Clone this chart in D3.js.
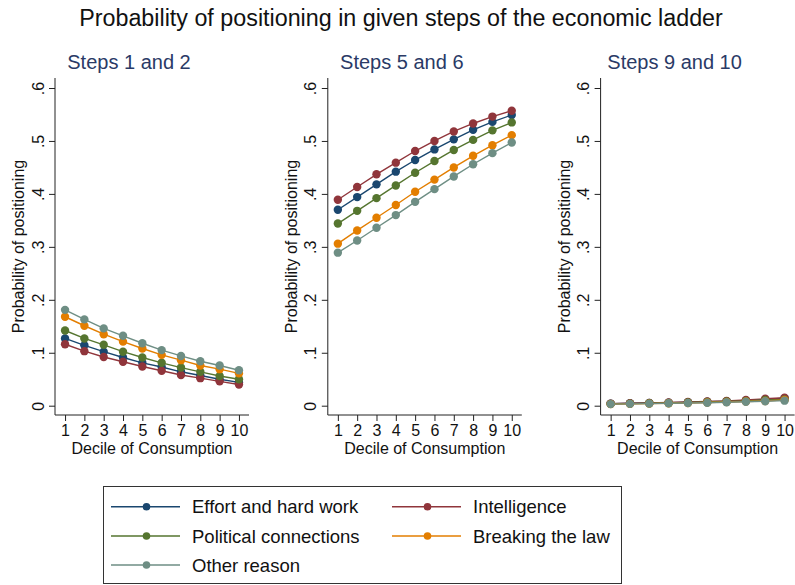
<!DOCTYPE html>
<html>
<head>
<meta charset="utf-8">
<script src="https://cdn.jsdelivr.net/npm/d3@7"></script>
<style>
  html, body { margin: 0; padding: 0; background: #fff; }
  svg { display: block; font-family: "Liberation Sans", Arial, Helvetica, sans-serif; }
</style>
</head>
<body>
<svg id="chart" width="795" height="585"></svg>
<script>
// Deciles of consumption on the x axis
const deciles = [1, 2, 3, 4, 5, 6, 7, 8, 9, 10];
const yTicks = [0, 0.1, 0.2, 0.3, 0.4, 0.5, 0.6];
const yTickLabels = ["0", ".1", ".2", ".3", ".4", ".5", ".6"];

const panelTitles = ["Steps 1 and 2", "Steps 5 and 6", "Steps 9 and 10"];
const seriesNames = ["Effort and hard work", "Intelligence", "Political connections", "Breaking the law", "Other reason"];
const seriesColors = ["#1a476f", "#90353b", "#55752f", "#e37e00", "#6e8e84"];

// Predicted probabilities, one array per reason, for each panel
const steps12Effort   = [0.127, 0.114, 0.102, 0.091, 0.081, 0.073, 0.064, 0.057, 0.050, 0.044];
const steps12Intel    = [0.116, 0.103, 0.092, 0.083, 0.074, 0.066, 0.058, 0.052, 0.046, 0.040];
const steps12Politic  = [0.142, 0.127, 0.115, 0.102, 0.091, 0.081, 0.072, 0.064, 0.056, 0.050];
const steps12Law      = [0.168, 0.151, 0.135, 0.121, 0.108, 0.096, 0.086, 0.076, 0.069, 0.061];
const steps12Other    = [0.181, 0.163, 0.146, 0.132, 0.118, 0.105, 0.094, 0.084, 0.076, 0.067];

const steps56Effort   = [0.370, 0.394, 0.418, 0.442, 0.464, 0.484, 0.503, 0.521, 0.536, 0.549];
const steps56Intel    = [0.389, 0.413, 0.437, 0.459, 0.481, 0.500, 0.518, 0.533, 0.546, 0.557];
const steps56Politic  = [0.344, 0.368, 0.392, 0.416, 0.440, 0.462, 0.483, 0.502, 0.520, 0.535];
const steps56Law      = [0.306, 0.331, 0.355, 0.379, 0.404, 0.427, 0.450, 0.472, 0.492, 0.511];
const steps56Other    = [0.289, 0.312, 0.336, 0.360, 0.385, 0.409, 0.433, 0.456, 0.477, 0.497];

const steps910Effort  = [0.004, 0.0045, 0.005, 0.0055, 0.0065, 0.0075, 0.0085, 0.010, 0.012, 0.014];
const steps910Intel   = [0.004, 0.0045, 0.005, 0.006, 0.007, 0.008, 0.009, 0.011, 0.013, 0.015];
const steps910Politic = [0.0035, 0.004, 0.0045, 0.005, 0.006, 0.007, 0.008, 0.009, 0.011, 0.012];
const steps910Law     = [0.003, 0.0035, 0.004, 0.0045, 0.005, 0.006, 0.007, 0.008, 0.009, 0.011];
const steps910Other   = [0.003, 0.0035, 0.004, 0.0045, 0.005, 0.0055, 0.0065, 0.0075, 0.0085, 0.0095];

const panels = [
  [steps12Effort, steps12Intel, steps12Politic, steps12Law, steps12Other],
  [steps56Effort, steps56Intel, steps56Politic, steps56Law, steps56Other],
  [steps910Effort, steps910Intel, steps910Politic, steps910Law, steps910Other]
];

const svg = d3.select("#chart");
const axisColor = "#222";

svg.append("text")
  .attr("x", 401).attr("y", 25.5)
  .attr("text-anchor", "middle")
  .attr("font-size", 23.3)
  .attr("fill", "#111")
  .text("Probability of positioning in given steps of the economic ladder");

const plotTop = 78, plotBottom = 415, plotW = 194;
const y = d3.scaleLinear().domain([0, 0.6]).range([405.7, 88]);

panels.forEach((series, p) => {
  const left = 55 + p * 272.8;
  const x = d3.scaleLinear().domain([0.48, 10.52]).range([left, left + plotW]);
  const g = svg.append("g");

  g.append("text")
    .attr("x", left + 74).attr("y", 69)
    .attr("text-anchor", "middle")
    .attr("font-size", 20)
    .attr("fill", "#2a3a66")
    .text(panelTitles[p]);

  // y axis
  const yAxis = d3.axisLeft(y).tickValues(yTicks)
    .tickFormat((d, i) => yTickLabels[i]).tickSize(6).tickSizeOuter(0);
  const ya = g.append("g").attr("transform", `translate(${left},0)`).call(yAxis);
  ya.select(".domain").remove();
  ya.selectAll(".tick line").attr("stroke", axisColor);
  ya.selectAll(".tick text")
    .attr("font-size", 16).attr("fill", "#111")
    .attr("font-family", null)
    .attr("text-anchor", "middle")
    .attr("dy", null)
    .attr("x", null)
    .attr("transform", "translate(-11.5,0) rotate(-90)");
  g.append("line")
    .attr("x1", left).attr("x2", left)
    .attr("y1", plotTop).attr("y2", plotBottom)
    .attr("stroke", axisColor).attr("stroke-width", 1);

  // x axis
  const xAxis = d3.axisBottom(x).tickValues(deciles).tickFormat(d3.format("d"))
    .tickSize(6).tickSizeOuter(0).tickPadding(4);
  const xa = g.append("g").attr("transform", `translate(0,${plotBottom})`).call(xAxis);
  xa.select(".domain").remove();
  xa.selectAll(".tick line").attr("stroke", axisColor);
  xa.selectAll(".tick text").attr("font-size", 16).attr("fill", "#111").attr("font-family", null);
  g.append("line")
    .attr("x1", left).attr("x2", left + plotW)
    .attr("y1", plotBottom).attr("y2", plotBottom)
    .attr("stroke", axisColor).attr("stroke-width", 1);

  g.append("text")
    .attr("transform", `translate(${left - 31},${(plotTop + plotBottom) / 2}) rotate(-90)`)
    .attr("text-anchor", "middle")
    .attr("font-size", 16).attr("fill", "#111")
    .text("Probability of positioning");

  g.append("text")
    .attr("x", left + 97).attr("y", 454)
    .attr("text-anchor", "middle")
    .attr("font-size", 16).attr("fill", "#111")
    .text("Decile of Consumption");

  const line = d3.line().x((d, i) => x(deciles[i])).y(d => y(d));
  series.forEach((vals, s) => {
    const sg = g.append("g");
    sg.append("path")
      .attr("d", line(vals))
      .attr("fill", "none")
      .attr("stroke", seriesColors[s])
      .attr("stroke-width", 1.4);
    sg.selectAll("circle").data(vals).join("circle")
      .attr("cx", (d, i) => x(deciles[i]))
      .attr("cy", d => y(d))
      .attr("r", 4.2)
      .attr("fill", seriesColors[s]);
  });
});

// Legend
const legend = svg.append("g");
legend.append("rect")
  .attr("x", 103.5).attr("y", 486.5)
  .attr("width", 518).attr("height", 97)
  .attr("fill", "#fff").attr("stroke", "#333").attr("stroke-width", 1);

const colX = [111, 392];
const rowY = [506.7, 536, 565];
seriesNames.forEach((name, i) => {
  const cx = colX[i % 2], cy = rowY[Math.floor(i / 2)];
  legend.append("line")
    .attr("x1", cx).attr("x2", cx + 69)
    .attr("y1", cy).attr("y2", cy)
    .attr("stroke", seriesColors[i]).attr("stroke-width", 1.4);
  legend.append("circle")
    .attr("cx", cx + 35.5).attr("cy", cy).attr("r", 3.8)
    .attr("fill", seriesColors[i]);
  legend.append("text")
    .attr("x", cx + 81).attr("y", cy + 6.5)
    .attr("font-size", 18.5).attr("fill", "#111")
    .text(name);
});
</script>
</body>
</html>
